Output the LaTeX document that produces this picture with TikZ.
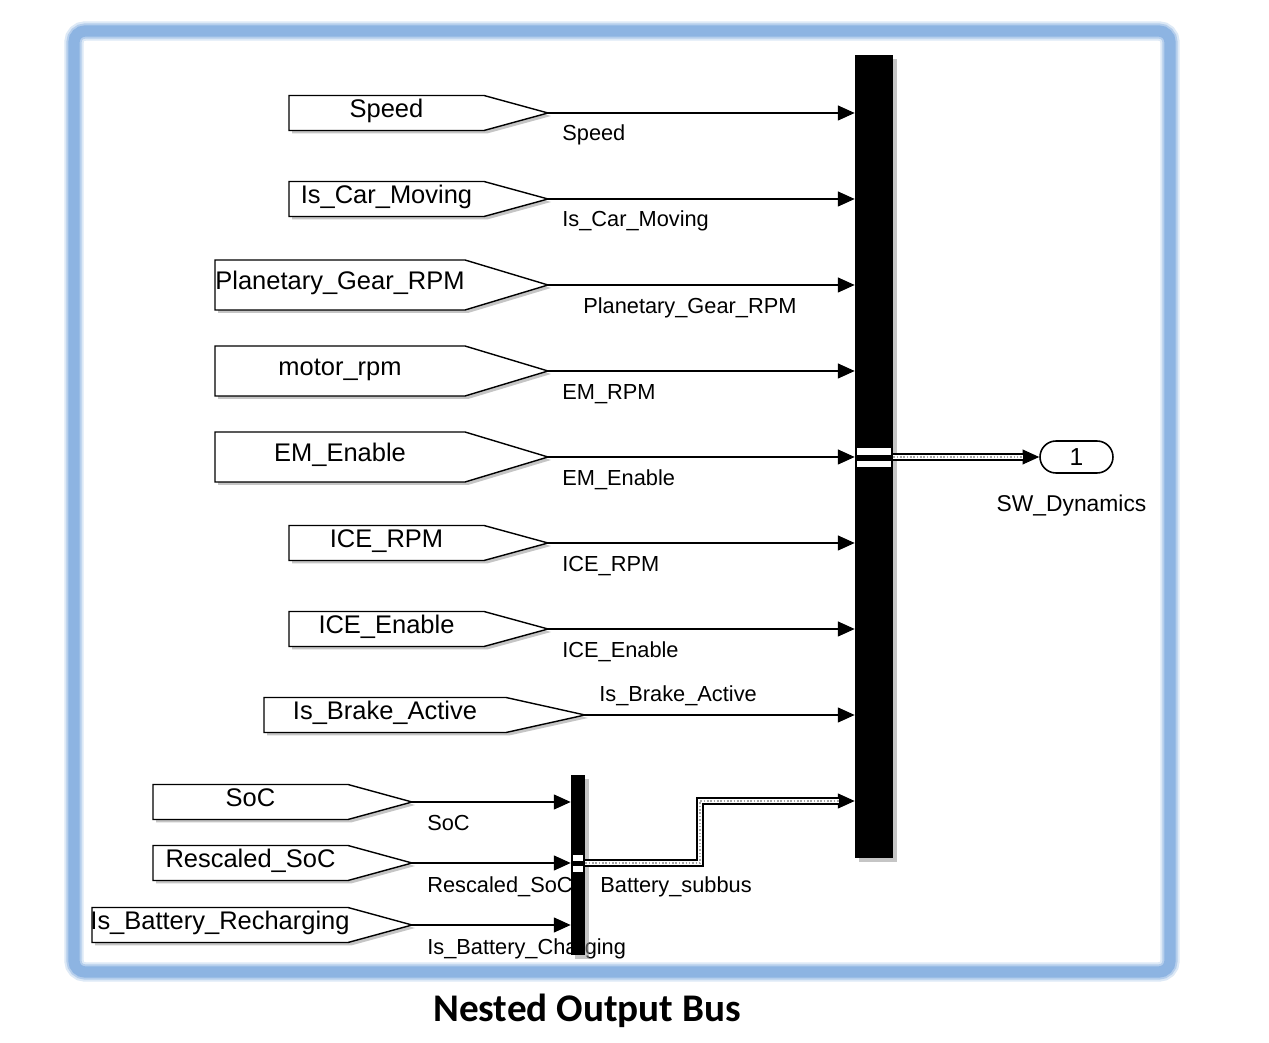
\documentclass[tikz,border=0pt]{standalone}
\usepackage{fontspec}
\setmainfont{Liberation Sans}
\newfontfamily\titlefont{Carlito}
\usepackage{tikz}
\usetikzlibrary{arrows.meta}
\definecolor{framecol}{RGB}{141,180,226}
\definecolor{shadowcol}{RGB}{150,150,150}
\tikzset{
  tag/.style={draw=black,line width=0.8pt,fill=white,line join=miter},
  tagshadow/.style={fill=shadowcol,opacity=0.55},
  tagtext/.style={font=\fontsize{14.5}{16}\selectfont,inner sep=0pt,
    text height=0.75em,text depth=0.25em},
  linelabel/.style={font=\fontsize{12.4}{14}\selectfont,anchor=west,inner sep=0pt,
    text height=0.75em,text depth=0.25em},
  sig/.style={-{Triangle[length=9.5pt,width=8.5pt]},line width=0.6pt},
  bus/.style={-{Triangle[length=9.5pt,width=8.5pt]},line width=0.6pt,
    preaction={draw,-,line width=4pt,shorten >=9pt},
    postaction={draw=white,-,line width=2.3pt,shorten >=9pt},
    postaction={draw=gray!70,-,densely dotted,line width=0.9pt,shorten >=9pt}},
  busbar/.style={fill=black,draw=none,inner sep=0pt},
  outport/.style={draw=black,line width=0.9pt,fill=white,rounded corners=0.32cm,
    minimum width=1.46cm,minimum height=0.64cm,inner sep=0pt,
    font=\fontsize{14}{16}\selectfont}
}
% goto tag: name, left x, body end x, tip x, middle y, half height, text
\newcommand{\gototag}[7]{%
  \fill[tagshadow] (#2+3,#5-#6+3) -- (#3+3,#5-#6+3) -- (#4+3,#5+3)
    -- (#3+3,#5+#6+3) -- (#2+3,#5+#6+3) -- cycle;
  \draw[tag] (#2,#5-#6) -- (#3,#5-#6) -- (#4,#5) -- (#3,#5+#6) -- (#2,#5+#6) -- cycle;
  \coordinate (#1) at (#4,#5);
  \node[tagtext] (#1text) at ({(#2+#3)/2},#5) {#7};
}

\begin{document}
\begin{tikzpicture}[x=0.02cm,y=-0.02cm]
  \useasboundingbox (0,0) rectangle (1269,1043);
  \fill[white] (0,0) rectangle (1269,1043);

  % frame
  \draw[framecol!30,line width=11pt,rounded corners=0.22cm] (74,31) rectangle (1170,972);
  \draw[framecol!65,line width=8.6pt,rounded corners=0.22cm] (74,31) rectangle (1170,972);
  \draw[framecol,line width=6.4pt,rounded corners=0.22cm] (74,31) rectangle (1170,972);

  % goto tags
  \gototag{speed}{289}{484}{548}{113}{17.5}{Speed}
  \gototag{carmoving}{289}{484}{548}{199}{17.5}{Is\_Car\_Moving}
  \gototag{planetary}{215}{465}{548}{285}{25}{Planetary\_Gear\_RPM}
  \gototag{motorrpm}{215}{465}{548}{371}{25}{motor\_rpm}
  \gototag{emenable}{215}{465}{548}{457}{25}{EM\_Enable}
  \gototag{icerpm}{289}{484}{548}{543}{17.5}{ICE\_RPM}
  \gototag{iceenable}{289}{484}{548}{629}{17.5}{ICE\_Enable}
  \gototag{brake}{264}{506}{585}{715}{17.5}{Is\_Brake\_Active}
  \gototag{soc}{153}{348}{412}{802}{17.5}{SoC}
  \gototag{rescaled}{153}{348}{412}{863}{17.5}{Rescaled\_SoC}
  \gototag{battrech}{92}{348}{412}{925}{17.5}{Is\_Battery\_Recharging}

  % signal names
  \node[linelabel] (lspeed) at (562,136) {Speed};
  \node[linelabel] (lcarmoving) at (562,222) {Is\_Car\_Moving};
  \node[linelabel] (lplanetary) at (583,309) {Planetary\_Gear\_RPM};
  \node[linelabel] (lemrpm) at (562,395) {EM\_RPM};
  \node[linelabel] (lemenable) at (562,481) {EM\_Enable};
  \node[linelabel] (licerpm) at (562,567) {ICE\_RPM};
  \node[linelabel] (liceenable) at (562,653) {ICE\_Enable};
  \node[linelabel] (lbrake) at (599,697) {Is\_Brake\_Active};
  \node[linelabel] (lsoc) at (427,826) {SoC};
  \node[linelabel] (lrescaled) at (427,888) {Rescaled\_SoC};
  \node[linelabel] (lbattchg) at (427,950) {Is\_Battery\_Charging};
  \node[linelabel] (lsubbus) at (600,888) {Battery\_subbus};

  % bus creators
  \fill[tagshadow] (859,59) rectangle (897,862);
  \node[busbar,minimum width=0.76cm,minimum height=16.06cm] (mainbus) at (874,456.5) {};
  \fill[white] (857,448) rectangle (891,455);
  \fill[white] (857,461) rectangle (891,467);
  \fill[tagshadow] (575,779) rectangle (589,959);
  \node[busbar,minimum width=0.28cm,minimum height=3.6cm] (subbus) at (578,865) {};
  \fill[white] (573,855) rectangle (583,861);
  \fill[white] (573,866) rectangle (583,872);

  % outport
  \node[outport] (out1) at (1076.5,457) {1};
  \node[font=\fontsize{13}{15}\selectfont,inner sep=0pt] (outname) at (1071.5,506) {SW\_Dynamics};

  % signals
  \draw[sig] (speed) -- (speed -| mainbus.west);
  \draw[sig] (carmoving) -- (carmoving -| mainbus.west);
  \draw[sig] (planetary) -- (planetary -| mainbus.west);
  \draw[sig] (motorrpm) -- (motorrpm -| mainbus.west);
  \draw[sig] (emenable) -- (emenable -| mainbus.west);
  \draw[sig] (icerpm) -- (icerpm -| mainbus.west);
  \draw[sig] (iceenable) -- (iceenable -| mainbus.west);
  \draw[sig] (brake) -- (brake -| mainbus.west);
  \draw[sig] (soc) -- (soc -| subbus.west);
  \draw[sig] (rescaled) -- (rescaled -| subbus.west);
  \draw[sig] (battrech) -- (battrech -| subbus.west);

  % buses
  \coordinate (subjoin) at (700,801);
  \draw[bus] (subbus.east |- rescaled) -| (subjoin) -- (subjoin -| mainbus.west);
  \draw[bus] (mainbus.east |- emenable) -- (out1.west);

  % title
  \node[font=\titlefont\bfseries\fontsize{22.3}{26}\selectfont] (title) at (587,1011) {Nested Output Bus};
\end{tikzpicture}
\end{document}
